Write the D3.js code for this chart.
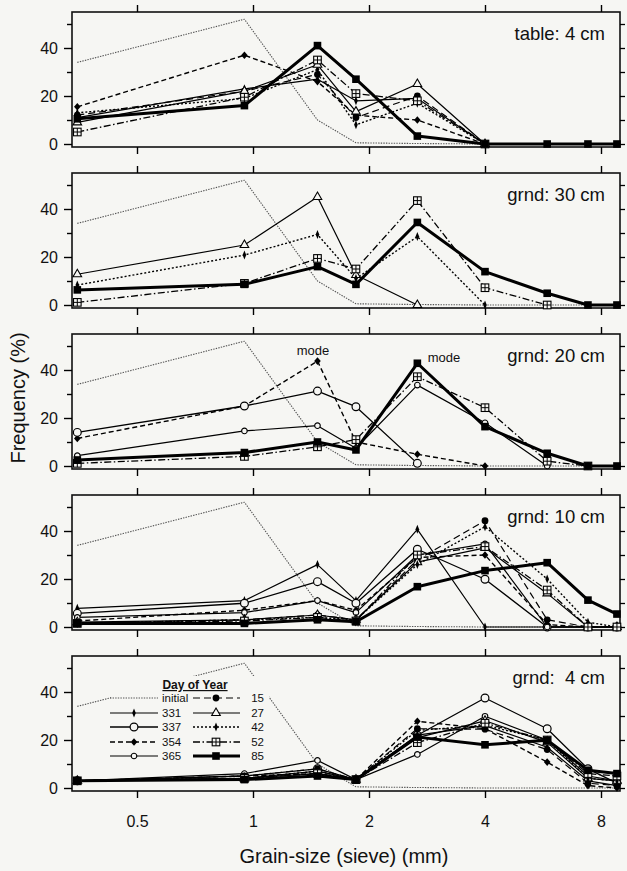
<!DOCTYPE html>
<html><head><meta charset="utf-8">
<script src="https://cdn.jsdelivr.net/npm/d3@7"></script>
<style>
html,body{margin:0;padding:0;background:#f6f6f3;}
svg{display:block;font-family:"Liberation Sans",Arial,Helvetica,sans-serif;}
</style></head>
<body><svg id="chart" width="627" height="871"></svg>
<script>
// ---------- data ----------
const sieveSizes = [0.35, 0.95, 1.47, 1.85, 2.67, 4.0, 5.8, 7.4, 8.8];
const xTickValues = [0.5, 1, 2, 4, 8];
const xTickLabels = ["0.5", "1", "2", "4", "8"];
const yTickValues = [0, 10, 20, 30, 40, 50];
const yTickLabels = ["0", "", "20", "", "40", ""];
const panelLabels = ["table: 4 cm", "grnd: 30 cm", "grnd: 20 cm", "grnd: 10 cm", "grnd:  4 cm"];
const legendCol1 = ["initial", "331", "337", "354", "365"];
const legendCol2 = ["15", "27", "42", "52", "85"];
const initialValues = [34, 52, 10, 0.5, 0.2, 0, 0, 0, 0];

const table4cm = [
  ["354", [15.5, 37, 26, 12, 10, 0]],
  ["42",  [13, 19, 31, 8, 17, 0]],
  ["15",  [12, 22, 29, 11, 20, 0]],
  ["331", [11, 23, 27, 18, 19, 0]],
  ["27",  [9, 22, 33, 13.5, 25, 0]],
  ["52",  [5, 19.5, 35, 21, 18, 0]],
  ["85",  [10.5, 16, 41, 27, 3.3, 0, 0, 0, 0]]
];
const grnd30cm = [
  ["27", [12.8, 25, 45, 12.5, 0]],
  ["42", [8.3, 20.8, 29.4, 11, 28.5, 0]],
  ["52", [1.1, 9, 19.4, 15, 43.5, 7.2, 0]],
  ["85", [6.3, 8.6, 16, 8.6, 34.4, 13.9, 4.9, 0, 0]]
];
const grnd20cm = [
  ["354", [11.5, 25, 43.7, 10, 4.9, 0]],
  ["337", [14, 25, 31.2, 24.7, 1.1]],
  ["365", [4.3, 14.6, 16.8, 7.4, 33.7, 18, 0]],
  ["52",  [1.1, 4, 8, 11, 37.2, 24.3, 2, 0]],
  ["85",  [2.5, 5.6, 10, 6.7, 42.8, 16.4, 5.3, 0, 0]]
];
const grnd10cm = [
  ["331", [7.8, 11, 26, 11, 40.7, 0, 0, 0, 0]],
  ["337", [5.7, 9.9, 18.9, 9.9, 32.4, 19.9, 0, 0, 0]],
  ["354", [2.5, 7, 11, 7, 29, 30, 1, 0, 0]],
  ["365", [4, 6, 11, 6, 30, 34.6, 0, 0, 0]],
  ["15",  [1.5, 3, 5, 3, 28, 44.3, 3, 0, 0]],
  ["27",  [2, 3, 5, 3, 27, 33, 14, 0, 0]],
  ["42",  [1.5, 3, 4, 3, 26, 41.8, 20, 2, 0]],
  ["52",  [1.5, 2.5, 4, 2.5, 30, 33.5, 15.4, 0, 0]],
  ["85",  [1.5, 1.5, 3, 2.2, 16.8, 23.5, 26.8, 11.2, 5.4]]
];
const grnd4cm = [
  ["331", [3, 4, 7, 3.5, 22, 26, 17, 3, 1]],
  ["337", [3, 5, 8, 3.5, 22, 37.5, 24.7, 8, 2]],
  ["354", [3, 5, 6, 3.5, 27.8, 24.7, 10.8, 1, 0]],
  ["365", [3, 6, 11.5, 3.5, 14, 29.9, 20, 5, 3]],
  ["15",  [3, 5, 8, 3.5, 24.7, 24.5, 16, 2, 1]],
  ["27",  [3, 4, 6, 3.5, 21, 28, 19, 4, 3]],
  ["42",  [3, 4, 7, 3.5, 24, 26.1, 20, 4, 3]],
  ["52",  [3, 4, 6, 3.5, 18.9, 27, 20, 6, 5]],
  ["85",  [3, 3.5, 5, 3.5, 21.2, 18, 19.9, 7.4, 6]]
];
const panelSeries = [table4cm, grnd30cm, grnd20cm, grnd10cm, grnd4cm];

// ---------- styles ----------
const BG = "#f6f6f3";
const styles = {
  "initial": {dash: "1.4,1.2", w: 1.1, color: "#555", marker: null},
  "331": {dash: null, w: 1.2, marker: "tick"},
  "337": {dash: null, w: 1.3, marker: "openCircle"},
  "354": {dash: "5,3", w: 1.4, marker: "diamond"},
  "365": {dash: null, w: 1.2, marker: "smallOpenCircle"},
  "15":  {dash: "7,4", w: 1.2, marker: "circle"},
  "27":  {dash: null, w: 1.2, marker: "triangle"},
  "42":  {dash: "2,2", w: 1.4, marker: "tick"},
  "52":  {dash: "7,2.5,1.5,2.5", w: 1.3, marker: "boxplus"},
  "85":  {dash: null, w: 3, marker: "square"}
};

const svg = d3.select("#chart");
const left = 72, right = 620;
const x = d3.scaleLog().domain([0.5, 8]).range([137, 601]);
const zeros = [144, 305, 466, 627, 788];
const pxPerUnit = 2.4;

function drawMarker(g, type, cx, cy) {
  const k = g.append("g").attr("transform", `translate(${cx},${cy})`);
  switch (type) {
    case "tick":
      k.append("path").attr("d", "M0,-4.5L1.8,0L0,4.5L-1.8,0Z").attr("fill", "#000"); break;
    case "openCircle":
      k.append("circle").attr("r", 3.9).attr("fill", BG).attr("stroke", "#000").attr("stroke-width", 1.2); break;
    case "smallOpenCircle":
      k.append("circle").attr("r", 2.8).attr("fill", BG).attr("stroke", "#000").attr("stroke-width", 1.1); break;
    case "diamond":
      k.append("path").attr("d", "M0,-3.8L3.3,0L0,3.8L-3.3,0Z").attr("fill", "#000"); break;
    case "circle":
      k.append("circle").attr("r", 3.4).attr("fill", "#000"); break;
    case "triangle":
      k.append("path").attr("d", d3.symbol(d3.symbolTriangle, 32)()).attr("fill", BG).attr("stroke", "#000").attr("stroke-width", 1.1); break;
    case "boxplus":
      k.append("rect").attr("x", -3.8).attr("y", -3.8).attr("width", 7.6).attr("height", 7.6).attr("fill", BG).attr("stroke", "#000").attr("stroke-width", 1.1);
      k.append("path").attr("d", "M-3.8,0H3.8M0,-3.8V3.8").attr("stroke", "#000").attr("stroke-width", 1); break;
    case "square":
      k.append("rect").attr("x", -3.8).attr("y", -3.8).attr("width", 7.6).attr("height", 7.6).attr("fill", "#000"); break;
  }
}

panelSeries.forEach((series, pi) => {
  const Z = zeros[pi];
  const y = d3.scaleLinear().domain([0, 55]).range([Z, Z - 55 * pxPerUnit]);
  const top = y(55), bottom = y(-1.25);
  const g = svg.append("g");

  g.append("rect").attr("x", left).attr("y", top).attr("width", right - left).attr("height", bottom - top)
    .attr("fill", "none").attr("stroke", "#111").attr("stroke-width", 1.6);

  const yl = g.append("g").attr("transform", `translate(${left},0)`)
    .call(d3.axisLeft(y).tickValues(yTickValues).tickFormat((d, i) => yTickLabels[i]).tickSize(8).tickPadding(6));
  yl.select(".domain").remove();
  yl.selectAll(".tick line").attr("stroke-width", 1.4).attr("x2", d => d % 20 === 0 ? -8 : -5);
  yl.selectAll(".tick text").attr("font-size", 16).attr("fill", "#111").attr("font-family", "Liberation Sans, Arial, sans-serif");

  const yr = g.append("g").attr("transform", `translate(${right},0)`)
    .call(d3.axisRight(y).tickValues(yTickValues).tickFormat("").tickSize(5));
  yr.select(".domain").remove();
  yr.selectAll(".tick line").attr("stroke-width", 1.3);

  const xt = g.append("g").attr("transform", `translate(0,${top})`)
    .call(d3.axisTop(x).tickValues(xTickValues).tickFormat("").tickSize(7));
  xt.select(".domain").remove();
  xt.selectAll(".tick line").attr("stroke-width", 1.4);

  const xb = g.append("g").attr("transform", `translate(0,${bottom})`)
    .call(d3.axisBottom(x).tickValues(xTickValues)
      .tickFormat((d, i) => pi === 4 ? xTickLabels[i] : "").tickSize(7).tickPadding(18));
  xb.select(".domain").remove();
  xb.selectAll(".tick line").attr("stroke-width", 1.4);
  xb.selectAll(".tick text").attr("font-size", 16).attr("fill", "#111").attr("font-family", "Liberation Sans, Arial, sans-serif");

  const line = d3.line().defined(d => d[1] != null).x(d => x(d[0])).y(d => y(d[1]));
  const all = [["initial", initialValues]].concat(series);
  all.forEach(([name, vals]) => {
    const st = styles[name];
    const pts = vals.map((v, i) => [sieveSizes[i], v]);
    g.append("path").attr("d", line(pts)).attr("fill", "none")
      .attr("stroke", st.color || "#000").attr("stroke-width", st.w)
      .attr("stroke-dasharray", st.dash).attr("stroke-linejoin", "round");
  });
  all.forEach(([name, vals]) => {
    const st = styles[name];
    if (!st.marker) return;
    vals.forEach((v, i) => { if (v != null) drawMarker(g, st.marker, x(sieveSizes[i]), y(v)); });
  });

  g.append("text").attr("x", 605).attr("y", top + 28).attr("text-anchor", "end")
    .attr("font-size", 18.5).attr("fill", "#111").style("white-space", "pre").text(panelLabels[pi]);

  if (pi === 2) {
    g.append("text").attr("x", 313).attr("y", 355).attr("text-anchor", "middle").attr("font-size", 13).attr("fill", "#111").text("mode");
    g.append("text").attr("x", 444).attr("y", 362).attr("text-anchor", "middle").attr("font-size", 13).attr("fill", "#111").text("mode");
  }

  if (pi === 4) {
    const lg = g.append("g");
    lg.append("rect").attr("x", 111).attr("y", 676).attr("width", 158).attr("height", 88).attr("fill", BG);
    lg.append("text").attr("x", 195).attr("y", 689).attr("text-anchor", "middle").attr("font-size", 12)
      .attr("font-weight", "bold").attr("text-decoration", "underline").attr("fill", "#111").text("Day of Year");
    const rowY = [698, 713, 727, 742, 756];
    legendCol1.forEach((name, i) => {
      const st = styles[name];
      lg.append("line").attr("x1", 110).attr("x2", 158).attr("y1", rowY[i]).attr("y2", rowY[i])
        .attr("stroke", st.color || "#000").attr("stroke-width", st.w).attr("stroke-dasharray", st.dash);
      if (st.marker) drawMarker(lg, st.marker, 134, rowY[i]);
      lg.append("text").attr("x", 162).attr("y", rowY[i] + 4).attr("font-size", 11.5).attr("fill", "#111").text(name);
    });
    legendCol2.forEach((name, i) => {
      const st = styles[name];
      lg.append("line").attr("x1", 193).attr("x2", 240).attr("y1", rowY[i]).attr("y2", rowY[i])
        .attr("stroke", st.color || "#000").attr("stroke-width", st.w).attr("stroke-dasharray", st.dash);
      if (st.marker) drawMarker(lg, st.marker, 216, rowY[i]);
      lg.append("text").attr("x", 264).attr("y", rowY[i] + 4).attr("text-anchor", "end").attr("font-size", 11.5).attr("fill", "#111").text(name);
    });
  }
});

svg.append("text").attr("x", 344).attr("y", 863).attr("text-anchor", "middle").attr("font-size", 20).attr("fill", "#111")
  .text("Grain-size (sieve) (mm)");
svg.append("text").attr("transform", "translate(25,398) rotate(-90)").attr("text-anchor", "middle").attr("font-size", 20).attr("fill", "#111")
  .text("Frequency (%)");
</script>
</body></html>
